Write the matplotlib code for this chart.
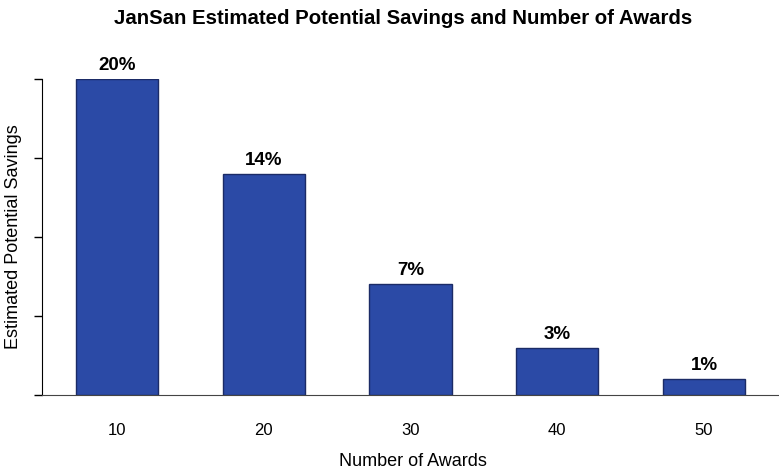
import matplotlib.pyplot as plt
import numpy as np

plt.rcParams['font.family'] = ['Liberation Sans', 'DejaVu Sans']

awards = ["10", "20", "30", "40", "50"]
savings = [20, 14, 7, 3, 1]
labels = ["20%", "14%", "7%", "3%", "1%"]

fig = plt.figure(figsize=(7.79, 4.72), dpi=100)
ax = fig.add_axes([42 / 779, 1 - 395 / 472, 1 - 42 / 779, (395 - 79) / 472])

x = np.arange(len(awards))
bars = ax.bar(x, savings, width=0.56, color="#2B4AA6", edgecolor="#1B2B66", linewidth=1)
for b, lab in zip(bars, labels):
    ax.annotate(lab, (b.get_x() + b.get_width() / 2, b.get_height()),
                xytext=(0, 5), textcoords="offset pixels",
                ha="center", va="bottom", fontsize=13.5, fontweight="bold",
                annotation_clip=False)

ax.set_xlim(-0.51, 4.51)
ax.set_ylim(0, 20)
ax.set_yticks([0, 5, 10, 15, 20])
ax.set_yticklabels([])
ax.tick_params(axis="y", direction="out", length=6, width=1)
ax.set_xticks(x)
ax.set_xticklabels(awards, fontsize=12)
ax.tick_params(axis="x", length=0, pad=20)
for s in ("top", "right"):
    ax.spines[s].set_visible(False)
ax.spines["bottom"].set_color("#444444")

fig.text(413 / 779, 1 - 462 / 472, "Number of Awards", ha="center", va="center", fontsize=13)
fig.text(14 / 779, 1 - 237 / 472, "Estimated Potential Savings", ha="center", va="center",
         rotation=90, fontsize=13)

fig.text(403 / 779, 1 - 18 / 472, "JanSan Estimated Potential Savings and Number of Awards",
         ha="center", va="center", fontsize=14.7, fontweight="bold")

fig.savefig("out.png", dpi=100)
